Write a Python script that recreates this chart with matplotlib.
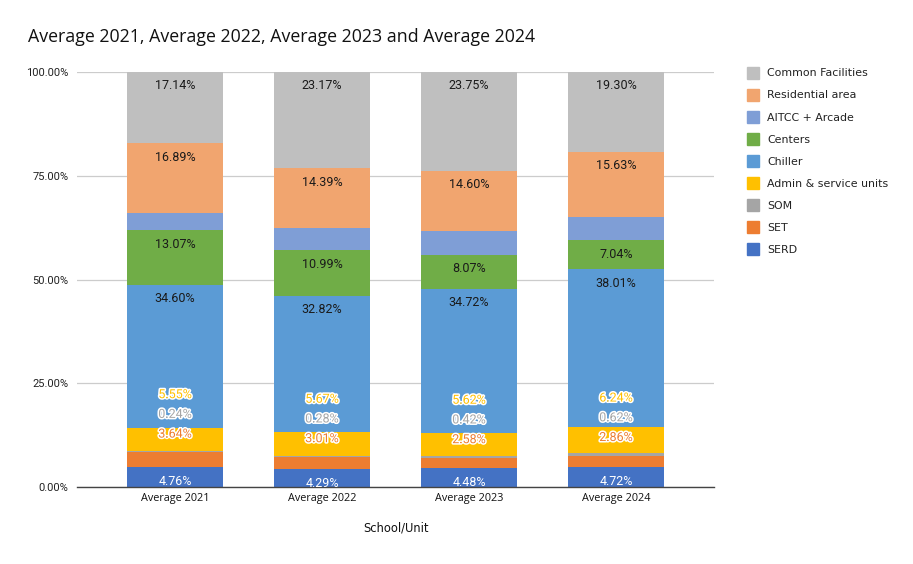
import matplotlib
matplotlib.use("Agg")
import matplotlib.pyplot as plt
import matplotlib.patheffects as pe
from matplotlib.lines import Line2D
import numpy as np

categories = ["Average 2021", "Average 2022", "Average 2023", "Average 2024"]
series_names = ["SERD", "SET", "SOM", "Admin & service units", "Chiller",
                "Centers", "AITCC + Arcade", "Residential area", "Common Facilities"]
SERD = [4.76, 4.29, 4.48, 4.72]
SET = [3.64, 3.01, 2.58, 2.86]
SOM = [0.24, 0.28, 0.42, 0.62]
Admin = [5.55, 5.67, 5.62, 6.24]
Chiller = [34.60, 32.82, 34.72, 38.01]
Centers = [13.07, 10.99, 8.07, 7.04]
AITCC = [4.11, 5.38, 5.76, 5.58]
Residential = [16.89, 14.39, 14.60, 15.63]
Common = [17.14, 23.17, 23.75, 19.30]
values = [SERD, SET, SOM, Admin, Chiller, Centers, AITCC, Residential, Common]
colors = ["#4472C4", "#ED7D31", "#A5A5A5", "#FFC000", "#5B9BD5",
          "#70AD47", "#7F9ED6", "#F1A56F", "#BFBFBF"]
labeled_inside = {"SERD": "white", "Chiller": "#1a1a1a", "Centers": "#1a1a1a",
                  "Residential area": "#1a1a1a", "Common Facilities": "#1a1a1a"}
outlined = ["SET", "SOM", "Admin & service units"]

fig = plt.figure(figsize=(9.13, 5.64), dpi=100)
ax = fig.add_axes([77/913, 1-487/564, (714-77)/913, (487-72)/564])

x = np.arange(len(categories))
width = 0.653
bottom = np.zeros(len(categories))
tops = {}
for name, vals, col in zip(series_names, values, colors):
    v = np.array(vals)
    ax.bar(x, v, width, bottom=bottom, color=col, zorder=2, linewidth=0)
    tops[name] = bottom + v
    if name in labeled_inside:
        for xi, top, val in zip(x, bottom + v, v):
            ax.annotate(f"{val:.2f}%", (xi, top), xytext=(0, -10), textcoords="offset points",
                        ha="center", va="center", fontsize=9, family="Roboto",
                        color=labeled_inside[name], zorder=4)
    bottom = bottom + v

# outlined small-segment labels, stacked above the SET top
for k, name in enumerate(outlined):
    idx = series_names.index(name)
    col = colors[idx]
    vals = values[idx]
    for xi, val, settop in zip(x, vals, tops["SET"]):
        ax.annotate(f"{val:.2f}%", (xi, settop), xytext=(0, 13 + 14.2 * k), textcoords="offset points",
                    ha="center", va="center", fontsize=9, family="Roboto", color=col, zorder=5,
                    path_effects=[pe.withStroke(linewidth=2.2, foreground="white")])

ax.set_xlim(-0.667, 3.667)
ax.set_ylim(0, 100)
ax.set_yticks([0, 25, 50, 75, 100])
ax.set_yticklabels(["0.00%", "25.00%", "50.00%", "75.00%", "100.00%"], family="Roboto",
                   fontsize=8, color="#222222")
ax.set_xticks(x)
ax.set_xticklabels(categories, family="Open Sans", fontsize=7.8, color="#111111")
ax.tick_params(axis="both", length=0)
ax.tick_params(axis="y", pad=6)
ax.tick_params(axis="x", pad=4)
ax.grid(axis="y", color="#CCCCCC", linewidth=0.9, zorder=0)
ax.set_axisbelow(True)
for s in ["left", "right", "top"]:
    ax.spines[s].set_visible(False)
ax.spines["bottom"].set_color("#444444")
ax.spines["bottom"].set_linewidth(1.0)
ax.spines["bottom"].set_zorder(3)

fig.text(396/913, 1-528/564, "School/Unit", ha="center", va="center",
         family="DejaVu Sans", fontsize=8.3, color="#111111")
fig.text(28/913, 1-37/564, "Average 2021, Average 2022, Average 2023 and Average 2024",
         ha="left", va="center", family="Open Sans", fontsize=12.8, color="#111111")

handles = [Line2D([0], [0], marker="s", linestyle="none", markersize=8,
                  markerfacecolor=c, markeredgecolor=c) for c in colors]
leg = fig.legend(handles[::-1], series_names[::-1], loc="upper left",
                 bbox_to_anchor=(743/913, 1-64/564), frameon=False,
                 prop={"family": "DejaVu Sans", "size": 7.9}, handlelength=1.0,
                 handletextpad=0.8, labelspacing=1.1, borderaxespad=0)
for t in leg.get_texts():
    t.set_color("#222222")

fig.savefig("out.png", dpi=100)
